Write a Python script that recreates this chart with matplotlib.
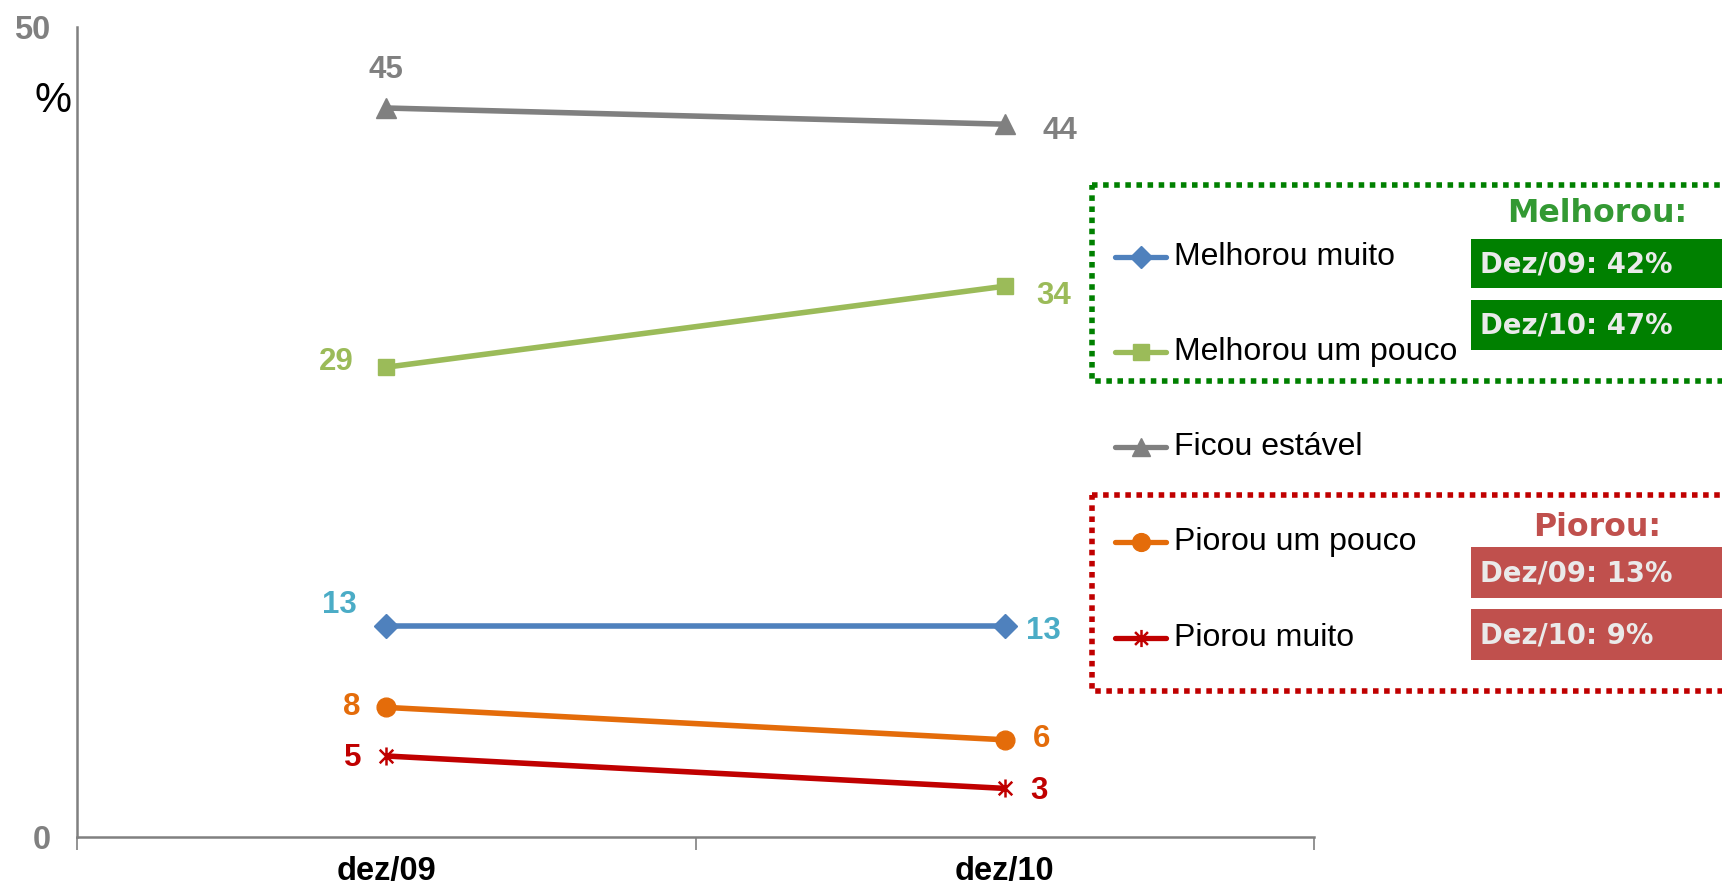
import matplotlib
matplotlib.use("Agg")
import matplotlib.pyplot as plt
from matplotlib.path import Path
from matplotlib.lines import Line2D
from matplotlib.patches import Rectangle

# ---- data -------------------------------------------------------------
categories = ["dez/09", "dez/10"]
series_names = ["Melhorou muito", "Melhorou um pouco", "Ficou estável",
                "Piorou um pouco", "Piorou muito"]
melhorou_muito = [13, 13]
melhorou_pouco = [29, 34]
ficou_estavel = [45, 44]
piorou_pouco = [8, 6]
piorou_muito = [5, 3]
period_labels = ["Dez/09", "Dez/10"]

# ---- styling ----------------------------------------------------------
star = Path([(0, -1), (0, 1), (-0.75, -0.75), (0.75, 0.75), (-0.75, 0.75), (0.75, -0.75)],
            [Path.MOVETO, Path.LINETO, Path.MOVETO, Path.LINETO, Path.MOVETO, Path.LINETO])
styles = [
    dict(color="#4F81BD", marker="D", ms=12, label_color="#4BACC6"),
    dict(color="#9BBB59", marker="s", ms=12, label_color="#9BBB59"),
    dict(color="#808080", marker="^", ms=14, label_color="#808080"),
    dict(color="#E46C0A", marker="o", ms=13.5, label_color="#E46C0A"),
    dict(color="#C00000", marker=star, ms=13, label_color="#C00000"),
]
# label offsets in pixels (left point, right point), centred text
offsets = [
    [(-47, 21), (39, -5)],
    [(-50, 5), (49, -10)],
    [(0, 38), (55, -7)],
    [(-34, 0), (37, 1)],
    [(-34, -2), (34, -3)],
]

ARIAL = ["Liberation Sans", "DejaVu Sans"]
VERD = ["DejaVu Sans"]
GRAY = "#808080"

W, H = 1722, 889
fig = plt.figure(figsize=(W / 100, H / 100), dpi=100)
fig.patch.set_facecolor("white")

ax = fig.add_axes([77 / W, 1 - 837 / H, (1314 - 77) / W, (837 - 27) / H])
all_series = [melhorou_muito, melhorou_pouco, ficou_estavel, piorou_pouco, piorou_muito]
x = list(range(len(categories)))
handles = []
for vals, st, offs in zip(all_series, styles, offsets):
    mew = 1.8 if st["marker"] is star else 1
    ln, = ax.plot(x, vals, color=st["color"], lw=4.0, marker=st["marker"],
                  ms=st["ms"], mfc=st["color"], mec=st["color"], mew=mew,
                  solid_capstyle="butt", clip_on=False, zorder=3)
    handles.append(ln)
    for xi, v, (dx, dy) in zip(x, vals, offs):
        ax.annotate(f"{v}", (xi, v), xytext=(dx, dy), textcoords="offset pixels",
                    ha="center", va="center", fontsize=22.5, fontweight="bold",
                    color=st["label_color"], family=ARIAL)

ax.set_xlim(-0.5, len(categories) - 0.5)
ax.set_ylim(0, 50)
ax.set_yticks([0, 50])
ax.set_yticklabels(["0", "50"])
ax.tick_params(axis="y", length=0, pad=19, labelsize=23.5, labelcolor=GRAY)
for t in ax.get_yticklabels():
    t.set_fontweight("bold")
    t.set_family(ARIAL)
ax.set_xticks([-0.5, 0.5, 1.5])
ax.set_xticklabels(["", "", ""])
ax.set_xticks(x, minor=True)
ax.set_xticklabels(categories, minor=True)
ax.tick_params(axis="x", which="major", length=9, width=1.2, color=GRAY, direction="out")
ax.tick_params(axis="x", which="minor", length=0, pad=14, labelsize=23.5)
for t in ax.get_xticklabels(minor=True):
    t.set_fontweight("bold")
    t.set_family(ARIAL)
for s in ["top", "right"]:
    ax.spines[s].set_visible(False)
for s in ["left", "bottom"]:
    ax.spines[s].set_color(GRAY)
    ax.spines[s].set_linewidth(1.8)

# "%" unit marker
fig.text(53 / W, 1 - 101 / H, "%", ha="center", va="center", fontsize=30,
         color="black", family=ARIAL)

# ---- overlay in pixel coordinates: legend and summary boxes -----------
ov = fig.add_axes([0, 0, 1, 1], zorder=5)
ov.set_xlim(0, W)
ov.set_ylim(H, 0)
ov.axis("off")
ov.patch.set_alpha(0)

# dotted frames
for (top, bot, col) in [(185, 381, "#008000"), (495, 691, "#C00000")]:
    ov.add_patch(Rectangle((1092, top), 700, bot - top, fill=False, edgecolor=col,
                           lw=4.0, linestyle=(0, (1.0, 1.0)), clip_on=True))

# legend entries
leg_y = [257, 352, 447, 542, 638]
for ln, name, yy in zip(handles, series_names, leg_y):
    ov.add_line(Line2D([1115, 1166], [yy, yy], color=ln.get_color(), lw=3.8,
                       solid_capstyle="round"))
    ov.add_line(Line2D([1140.5], [yy], marker=ln.get_marker(), ms=ln.get_markersize() * 0.95,
                       mfc=ln.get_color(), mec=ln.get_color(), mew=ln.get_markeredgewidth()))
    ov.text(1174, yy, name, ha="left", va="center", fontsize=23, color="black",
            family=ARIAL)

# summary boxes
melhorou_total = [a + b for a, b in zip(melhorou_muito, melhorou_pouco)]
piorou_total = [a + b for a, b in zip(piorou_pouco, piorou_muito)]
groups = [
    ("Melhorou:", "#339933", "#008000", melhorou_total, 214, [(239, 288), (300, 350)]),
    ("Piorou:", "#C0504D", "#C0504D", piorou_total, 528, [(547, 598), (609, 660)]),
]
for title, tcol, bcol, totals, ty, rows in groups:
    ov.text(1597, ty, title, ha="center", va="center", fontsize=22.8,
            fontweight="bold", color=tcol, family=VERD)
    for per, tot, (y0, y1) in zip(period_labels, totals, rows):
        ov.add_patch(Rectangle((1471, y0), 300, y1 - y0, facecolor=bcol,
                               edgecolor="none"))
        ov.text(1480, (y0 + y1) / 2 + 1, f"{per}: {tot}%", ha="left", va="center",
                fontsize=19.8, fontweight="bold", color="#EAEAEA", family=VERD)

fig.savefig("out.png", dpi=100)
